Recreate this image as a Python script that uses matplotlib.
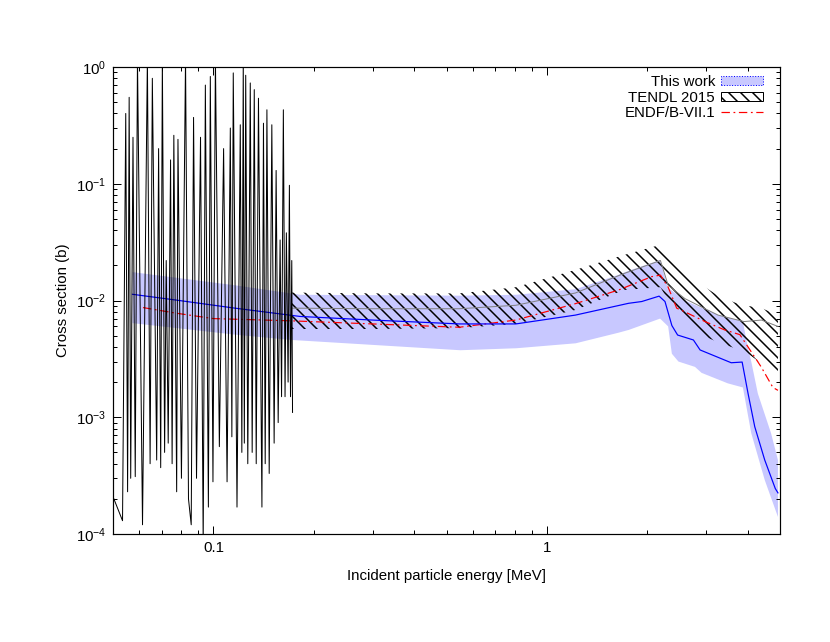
import matplotlib
matplotlib.use("Agg")
import matplotlib.pyplot as plt
import numpy as np
from matplotlib.patches import Patch
from matplotlib.lines import Line2D
from matplotlib.ticker import LogLocator, NullFormatter, FixedLocator, FixedFormatter

plt.rcParams['font.family'] = ['Liberation Sans', 'DejaVu Sans']
plt.rcParams['hatch.linewidth'] = 1.5

# resolved resonance region (TENDL 2015), peaks and valleys
res_e = [0.0503, 0.0534, 0.0546, 0.0553, 0.0559, 0.0565, 0.0574, 0.0583, 0.0592, 0.0613,
         0.0634, 0.0646, 0.0656, 0.0676, 0.0685, 0.0695, 0.0703, 0.0714, 0.0722, 0.0732,
         0.0744, 0.0752, 0.0761, 0.0776, 0.0783, 0.0802, 0.0825, 0.0842, 0.0858, 0.0872,
         0.0890, 0.0915, 0.0932, 0.0946, 0.0966, 0.0979, 0.0997, 0.1014, 0.1042, 0.1073,
         0.1099, 0.1124, 0.1136, 0.1147, 0.1177, 0.1204, 0.1217, 0.1229, 0.1238, 0.1250,
         0.1268, 0.1290, 0.1307, 0.1326, 0.1344, 0.1365, 0.1398, 0.1413, 0.1430, 0.1447,
         0.1470, 0.1497, 0.1521, 0.1542, 0.1564, 0.1585, 0.1601, 0.1621, 0.1640, 0.1655,
         0.1675, 0.1690, 0.1703, 0.1718, 0.1727]
res_xs = [2.0e-4, 1.3e-4, 0.40, 2.3e-4, 0.55, 3.0e-4, 0.25, 3.1e-4, 1.2, 1.2e-4,
          1.2, 4.0e-4, 0.80, 4.3e-4, 0.20, 3.7e-4, 1.2, 5.0e-4, 0.022, 6.0e-4,
          0.16, 4.0e-4, 0.26, 2.3e-4, 0.24, 3.0e-4, 1.2, 2.0e-4, 1.2e-4, 0.37,
          3.0e-4, 0.25, 8.0e-5, 0.70, 1.7e-4, 0.83, 2.8e-4, 1.2, 5.6e-4, 0.20,
          2.8e-4, 0.30, 6.8e-4, 0.89, 1.7e-4, 0.32, 5.0e-4, 1.2, 6.0e-4, 0.85,
          4.0e-4, 0.73, 5.0e-4, 0.64, 4.0e-4, 0.54, 1.7e-4, 0.33, 4.0e-4, 0.43,
          3.3e-4, 0.32, 6.0e-4, 0.13, 9.0e-4, 0.033, 1.5e-3, 0.43, 1.5e-3, 0.038,
          2.0e-3, 0.097, 1.5e-3, 0.022, 1.1e-3]

# TENDL 2015 uncertainty band
tendl_e = [0.172, 0.3, 0.546, 0.807, 1.218, 1.7, 2.19, 2.31, 2.59, 2.98, 3.26, 3.66, 3.9, 4.4, 4.93]
tendl_lo = [5.7e-3, 5.7e-3, 5.8e-3, 6.3e-3, 8.3e-3, 1.23e-2, 1.3e-2, 1.0e-2, 6.6e-3, 4.9e-3,
            4.4e-3, 3.9e-3, 3.7e-3, 2.9e-3, 2.2e-3]
tendl_mid = [8.6e-3, 8.5e-3, 8.5e-3, 9.1e-3, 1.16e-2, 1.7e-2, 2.2e-2, 1.35e-2, 1.04e-2, 8.5e-3,
             7.5e-3, 6.9e-3, 6.6e-3, 6.8e-3, 6.0e-3]
tendl_hi = [1.17e-2, 1.15e-2, 1.15e-2, 1.3e-2, 1.83e-2, 2.45e-2, 3.0e-2, 2.4e-2, 1.75e-2, 1.3e-2,
            1.1e-2, 9.6e-3, 9.1e-3, 8.6e-3, 7.5e-3]

# this work: band edges and central value
band_up_e = [0.0572, 0.116, 0.182, 0.55, 0.81, 1.22, 1.64, 1.76, 2.185, 2.3, 2.59, 3.26, 3.87,
             4.0, 4.1, 4.29, 4.7, 4.93]
band_up = [1.75e-2, 1.35e-2, 1.12e-2, 1.1e-2, 1.12e-2, 1.25e-2, 1.66e-2, 1.8e-2, 2.22e-2, 1.3e-2,
           1.0e-2, 7.5e-3, 6.6e-3, 4.0e-3, 3.0e-3, 1.6e-3, 7.3e-4, 4.3e-4]
band_lo_e = [0.0572, 0.116, 0.17, 0.55, 0.81, 1.22, 1.64, 1.76, 2.185, 2.31, 2.37, 2.48, 2.78,
             2.91, 3.49, 3.87, 4.1, 4.5, 4.93]
band_lo = [6.4e-3, 5.1e-3, 4.6e-3, 3.75e-3, 3.9e-3, 4.3e-3, 5.3e-3, 5.6e-3, 7.0e-3, 6.0e-3,
           3.5e-3, 3.0e-3, 2.7e-3, 2.4e-3, 1.95e-3, 1.8e-3, 7.3e-4, 2.9e-4, 1.4e-4]
work_e = [0.0572, 0.077, 0.116, 0.182, 0.3, 0.546, 0.807, 1.218, 1.757, 1.925, 2.17, 2.26, 2.37,
          2.466, 2.75, 2.88, 3.57, 3.85, 4.01, 4.2, 4.5, 4.84, 4.93]
work_xs = [1.13e-2, 1.01e-2, 8.6e-3, 7.3e-3, 6.8e-3, 6.3e-3, 6.3e-3, 7.5e-3, 9.46e-3, 9.8e-3,
           1.09e-2, 9.8e-3, 6.1e-3, 5.06e-3, 4.59e-3, 3.77e-3, 2.93e-3, 2.97e-3, 1.6e-3, 8.3e-4,
           4.3e-4, 2.45e-4, 2.25e-4]

# ENDF/B-VII.1
endf_e = [0.0615, 0.077, 0.1, 0.17, 0.3, 0.546, 0.807, 1.218, 1.64, 2.06, 2.19, 2.31, 2.45, 2.59,
          2.98, 3.41, 3.79, 4.01, 4.39, 4.76, 4.93]
endf_xs = [8.7e-3, 7.8e-3, 7.0e-3, 6.7e-3, 6.3e-3, 5.9e-3, 6.8e-3, 9.4e-3, 1.23e-2, 1.6e-2,
           1.65e-2, 1.3e-2, 8.6e-3, 8.0e-3, 6.6e-3, 5.6e-3, 5.1e-3, 4.0e-3, 2.7e-3, 1.8e-3, 1.7e-3]

band_col = '#c8c8ff'
fs = 15

fig = plt.figure(figsize=(830 / 72, 642 / 72), dpi=72)
ax = fig.add_axes([113 / 830, 1 - 534 / 642, 667 / 830, 467 / 642])

ax.fill(np.concatenate([band_up_e, band_lo_e[::-1]]),
        np.concatenate([band_up, band_lo[::-1]]),
        color=band_col, lw=0, zorder=1)
ax.fill_between(tendl_e, tendl_lo, tendl_hi, facecolor='none', edgecolor='black',
                hatch='\\\\', linewidth=0, zorder=2)
ax.plot(tendl_e, tendl_mid, color='#808080', lw=1, zorder=3)
ax.plot(endf_e, endf_xs, color='red', lw=1.2, dashes=(7, 3, 1.5, 3), zorder=4)
ax.plot(work_e, work_xs, color='blue', lw=1.2, zorder=5)
ax.plot(res_e, res_xs, color='black', lw=1.0, zorder=6)

ax.set_xscale('log')
ax.set_yscale('log')
ax.set_xlim(0.05, 5)
ax.set_ylim(1e-4, 1)

ax.xaxis.set_major_locator(FixedLocator([0.1, 1]))
ax.xaxis.set_major_formatter(FixedFormatter(['0.1', '1']))
ax.xaxis.set_minor_locator(LogLocator(base=10, subs=np.arange(2, 10)))
ax.xaxis.set_minor_formatter(NullFormatter())
ax.yaxis.set_minor_locator(LogLocator(base=10, subs=np.arange(2, 10)))
ax.yaxis.set_minor_formatter(NullFormatter())

ax.tick_params(which='both', direction='in', top=True, right=True, labelsize=fs, width=1)
ax.tick_params(which='major', length=8, pad=7)
ax.tick_params(which='minor', length=4)
for s in ax.spines.values():
    s.set_linewidth(1.2)

ax.set_xlabel('Incident particle energy [MeV]', fontsize=fs, labelpad=14)
ax.set_ylabel('Cross section (b)', fontsize=fs, labelpad=6)

handles = [Patch(facecolor=band_col, edgecolor='blue', linestyle=':', linewidth=1),
           Patch(facecolor='white', edgecolor='black', hatch='\\\\', linewidth=1),
           Line2D([], [], color='red', lw=1.2, dashes=(7, 3, 1.5, 3))]
ax.legend(handles, ['This work', 'TENDL 2015', 'ENDF/B-VII.1'], loc='upper right',
          bbox_to_anchor=(0.987, 1.0),
          frameon=False, markerfirst=False, fontsize=fs, handlelength=2.8, handleheight=0.55,
          labelspacing=0.1, handletextpad=0.4, borderaxespad=0.15)

fig.savefig('out.png', dpi=72)
